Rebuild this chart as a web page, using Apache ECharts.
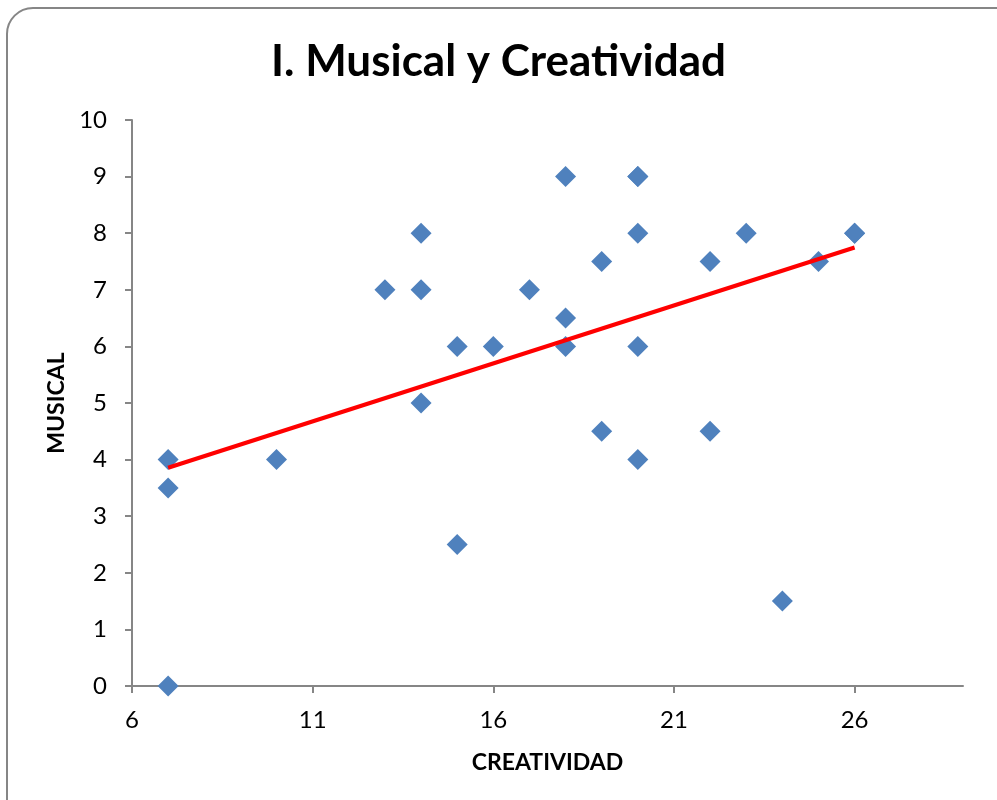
<!DOCTYPE html>
<html>
<head>
<meta charset="utf-8">
<script src="https://cdn.jsdelivr.net/npm/echarts@6/dist/echarts.min.js"></script>
<style>html,body{margin:0;padding:0;background:#fff}#c{width:997px;height:800px}</style>
</head>
<body>
<div id="c"></div>
<script>
// (20,9) and (26,8) appear twice (overlapping markers), consistent with the drawn trend line
const creatividad = [7,7,7,10,13,14,14,14,15,15,16,17,18,18,18,19,19,20,20,20,20,20,22,22,23,24,25,26,26];
const musical     = [4,3.5,0,4,7,8,7,5,6,2.5,6,7,9,6.5,6,7.5,4.5,9,9,8,6,4,7.5,4.5,8,1.5,7.5,8,8];
const titleText = 'I. Musical y Creatividad';
const xName = 'CREATIVIDAD';
const yName = 'MUSICAL';

// least-squares trend line
const n = creatividad.length;
const mx = creatividad.reduce((a,b)=>a+b,0)/n;
const my = musical.reduce((a,b)=>a+b,0)/n;
let sxy=0,sxx=0;
for(let i=0;i<n;i++){sxy+=(creatividad[i]-mx)*(musical[i]-my);sxx+=(creatividad[i]-mx)**2;}
const slope = sxy/sxx, icpt = my - slope*mx;
const xMin = Math.min(...creatividad), xMax = Math.max(...creatividad);
const trend = [[xMin, icpt+slope*xMin],[xMax, icpt+slope*xMax]];

const chart = echarts.init(document.getElementById('c'));
const font = 'Lato, "Open Sans", sans-serif';
chart.setOption({
  animation:false,
  backgroundColor:'#fff',
  title:{text:titleText,left:'center',top:35,textStyle:{fontFamily:font,fontSize:44,fontWeight:'bold',color:'#000'}},
  grid:{left:132,right:34,top:120,bottom:114},
  xAxis:{type:'value',min:6,max:29,interval:5,
    name:xName,nameLocation:'middle',nameGap:65,
    nameTextStyle:{fontFamily:font,fontSize:23,fontWeight:'bold',color:'#000'},
    axisLine:{show:true,onZero:false,lineStyle:{color:'#868686',width:2}},
    axisTick:{show:true,length:7,lineStyle:{color:'#868686',width:2}},
    axisLabel:{fontFamily:font,fontSize:24,color:'#000',margin:22,showMaxLabel:false},
    splitLine:{show:false}},
  yAxis:{type:'value',min:0,max:10,interval:1,
    name:yName,nameLocation:'middle',nameGap:63,
    nameTextStyle:{fontFamily:font,fontSize:23,fontWeight:'bold',color:'#000'},
    axisLine:{show:true,lineStyle:{color:'#868686',width:2}},
    axisTick:{show:true,length:7,lineStyle:{color:'#868686',width:2}},
    axisLabel:{fontFamily:font,fontSize:24,color:'#000',margin:25},
    splitLine:{show:false}},
  graphic:[{type:'rect',shape:{x:7,y:8,width:1100,height:900,r:26},style:{fill:'none',stroke:'#868686',lineWidth:2},z:-1}],
  series:[
    {type:'scatter',symbol:'diamond',symbolSize:21,itemStyle:{color:'#4F81BD',opacity:1},
     data:creatividad.map((x,i)=>[x,musical[i]]),z:2},
    {type:'line',data:trend,symbol:'none',lineStyle:{color:'#FF0000',width:4},z:3}
  ]
});
</script>
</body>
</html>
